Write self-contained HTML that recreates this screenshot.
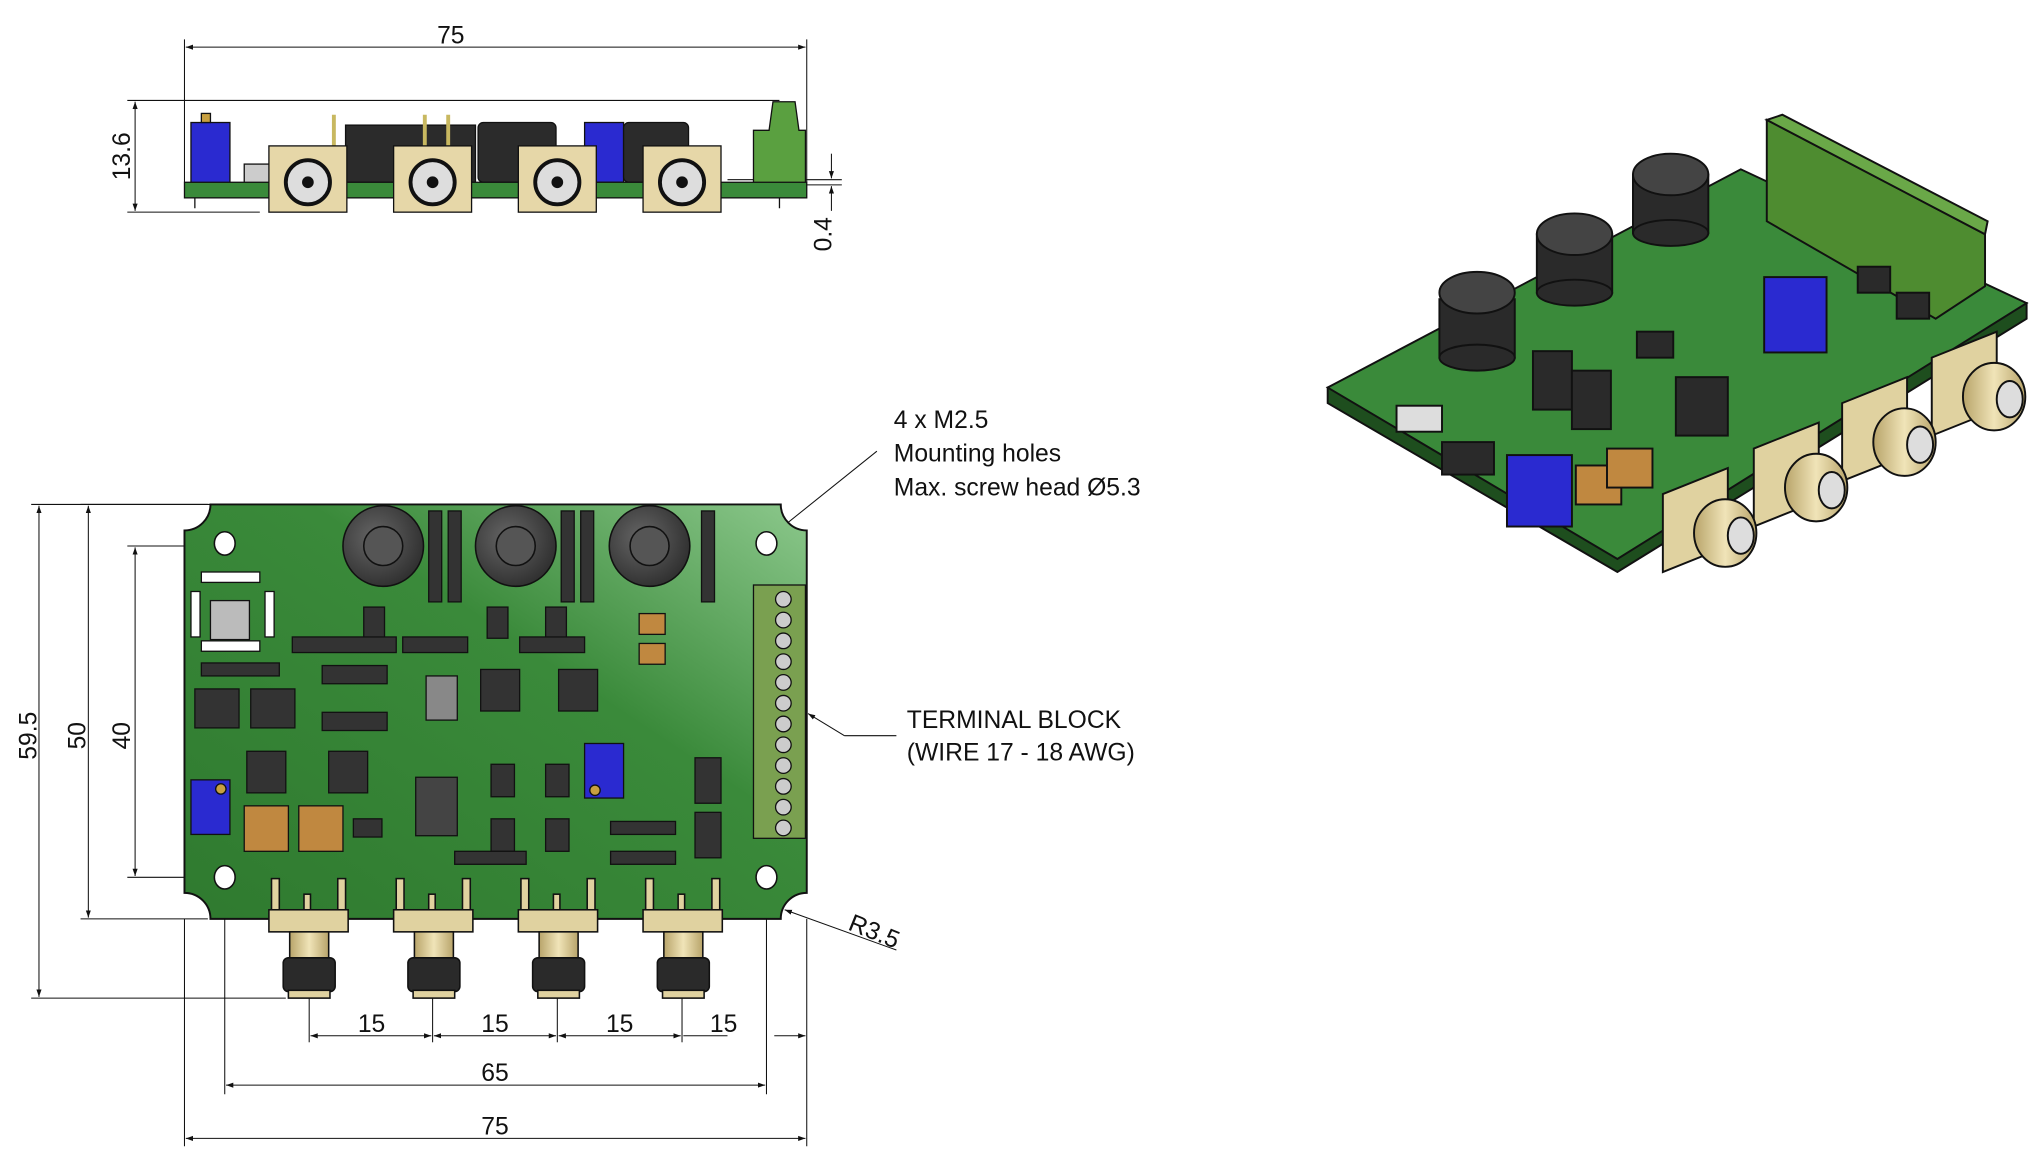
<!DOCTYPE html>
<html><head><meta charset="utf-8"><style>
html,body{margin:0;padding:0;background:#fff;}
svg{display:block;}
text{font-family:"Liberation Sans","DejaVu Sans",sans-serif;fill:#111;}
</style></head><body>
<svg width="2037" height="1157" viewBox="0 0 1568 890" xmlns="http://www.w3.org/2000/svg">
<defs>
<linearGradient id="pcb" x1="0" y1="1" x2="1" y2="0">
<stop offset="0" stop-color="#2f7a2f"/><stop offset="0.6" stop-color="#3a8a3a"/><stop offset="1" stop-color="#8cc88c"/>
</linearGradient>
<radialGradient id="pot" cx="0.4" cy="0.4" r="0.7"><stop offset="0" stop-color="#666"/><stop offset="1" stop-color="#2a2a2a"/></radialGradient>
<linearGradient id="brass" x1="0" x2="1"><stop offset="0" stop-color="#b8a46a"/><stop offset="0.5" stop-color="#f0e4b8"/><stop offset="1" stop-color="#b8a46a"/></linearGradient>
<marker id="ar" viewBox="0 0 10 10" refX="10" refY="5" markerWidth="7" markerHeight="7" orient="auto-start-reverse"><path d="M0,1.5 L10,5 L0,8.5 z" fill="#111"/></marker>
</defs>

<g stroke="#111" stroke-width="0.8" fill="none">
<line x1="142" y1="30" x2="142" y2="140"/><line x1="621" y1="30" x2="621" y2="140"/>
<line x1="143" y1="36" x2="620" y2="36" marker-start="url(#ar)" marker-end="url(#ar)"/>
<line x1="98" y1="77" x2="600" y2="77"/><line x1="98" y1="163" x2="200" y2="163"/>
<line x1="104" y1="78" x2="104" y2="162" marker-start="url(#ar)" marker-end="url(#ar)"/>
<line x1="560" y1="138" x2="648" y2="138"/><line x1="600" y1="142" x2="648" y2="142"/>
<line x1="640" y1="118" x2="640" y2="137" marker-end="url(#ar)"/>
<line x1="640" y1="162" x2="640" y2="143" marker-end="url(#ar)"/>
<line x1="24" y1="388" x2="160" y2="388"/><line x1="24" y1="768" x2="220" y2="768"/>
<line x1="30" y1="389" x2="30" y2="767" marker-start="url(#ar)" marker-end="url(#ar)"/>
<line x1="62" y1="388" x2="165" y2="388"/><line x1="62" y1="707" x2="160" y2="707"/>
<line x1="68" y1="389" x2="68" y2="706" marker-start="url(#ar)" marker-end="url(#ar)"/>
<line x1="98" y1="420" x2="172" y2="420"/><line x1="98" y1="675" x2="172" y2="675"/>
<line x1="104" y1="421" x2="104" y2="674" marker-start="url(#ar)" marker-end="url(#ar)"/>
<line x1="238" y1="768" x2="238" y2="802"/><line x1="333" y1="768" x2="333" y2="802"/>
<line x1="429" y1="768" x2="429" y2="802"/><line x1="525" y1="768" x2="525" y2="802"/>
<line x1="239" y1="797" x2="332" y2="797" marker-start="url(#ar)" marker-end="url(#ar)"/>
<line x1="334" y1="797" x2="428" y2="797" marker-start="url(#ar)" marker-end="url(#ar)"/>
<line x1="430" y1="797" x2="524" y2="797" marker-start="url(#ar)" marker-end="url(#ar)"/>
<line x1="526" y1="797" x2="560" y2="797"/><line x1="596" y1="797" x2="620" y2="797" marker-end="url(#ar)"/>
<line x1="173" y1="675" x2="173" y2="842"/><line x1="590" y1="675" x2="590" y2="842"/>
<line x1="174" y1="835" x2="589" y2="835" marker-start="url(#ar)" marker-end="url(#ar)"/>
<line x1="142" y1="707" x2="142" y2="882"/><line x1="621" y1="707" x2="621" y2="882"/>
<line x1="143" y1="876" x2="620" y2="876" marker-start="url(#ar)" marker-end="url(#ar)"/>
<line x1="675" y1="347" x2="594" y2="412" marker-end="url(#ar)"/>
<line x1="690" y1="566" x2="650" y2="566"/><line x1="650" y1="566" x2="622" y2="549" marker-end="url(#ar)"/>
<line x1="690" y1="731" x2="604" y2="700" marker-end="url(#ar)"/>
</g>

<g font-size="19">
<text x="347" y="33" text-anchor="middle">75</text>
<text transform="translate(100,120) rotate(-90)" text-anchor="middle">13.6</text>
<text transform="translate(640,180) rotate(-90)" text-anchor="middle">0.4</text>
<text transform="translate(28,566) rotate(-90)" text-anchor="middle">59.5</text>
<text transform="translate(66,566) rotate(-90)" text-anchor="middle">50</text>
<text transform="translate(100,566) rotate(-90)" text-anchor="middle">40</text>
<text x="286" y="794" text-anchor="middle">15</text>
<text x="381" y="794" text-anchor="middle">15</text>
<text x="477" y="794" text-anchor="middle">15</text>
<text x="557" y="794" text-anchor="middle">15</text>
<text x="381" y="832" text-anchor="middle">65</text>
<text x="381" y="873" text-anchor="middle">75</text>
<text x="688" y="329">4 x M2.5</text>
<text x="688" y="355">Mounting holes</text>
<text x="688" y="381">Max. screw head Ø5.3</text>
<text x="698" y="560">TERMINAL BLOCK</text>
<text x="698" y="585">(WIRE 17 - 18 AWG)</text>
<text transform="translate(652,715) rotate(22)">R3.5</text>
</g>

<!-- SIDE VIEW -->
<g stroke="#111" stroke-width="1">
<rect x="147" y="94" width="30" height="50" fill="#2a2ad0"/>
<rect x="155" y="87" width="7" height="7" fill="#c8a040"/>
<rect x="266" y="96" width="100" height="44" fill="#2b2b2b"/>
<rect x="368" y="94" width="60" height="46" fill="#2b2b2b" rx="4"/>
<rect x="450" y="94" width="30" height="46" fill="#2a2ad0"/>
<rect x="480" y="94" width="50" height="46" fill="#2b2b2b" rx="4"/>
<rect x="188" y="126" width="20" height="16" fill="#ccc"/>
<line x1="257" y1="88" x2="257" y2="140" stroke="#c8b860" stroke-width="3"/>
<line x1="327" y1="88" x2="327" y2="140" stroke="#c8b860" stroke-width="3"/>
<line x1="345" y1="88" x2="345" y2="140" stroke="#c8b860" stroke-width="3"/>
<path d="M580,142 L580,100 L592,100 L595,78 L612,78 L615,100 L620,100 L620,142 z" fill="#5aa040"/>
<rect x="142" y="140" width="479" height="12" fill="#3a8a3a"/>
<line x1="150" y1="152" x2="150" y2="160"/><line x1="600" y1="152" x2="600" y2="160"/>
<g fill="#e6d7a8">
<rect x="207" y="112" width="60" height="51"/><rect x="303" y="112" width="60" height="51"/>
<rect x="399" y="112" width="60" height="51"/><rect x="495" y="112" width="60" height="51"/>
</g>
<g fill="#ddd" stroke-width="3">
<circle cx="237" cy="140" r="17"/><circle cx="333" cy="140" r="17"/>
<circle cx="429" cy="140" r="17"/><circle cx="525" cy="140" r="17"/>
</g>
<g fill="#111">
<circle cx="237" cy="140" r="4"/><circle cx="333" cy="140" r="4"/>
<circle cx="429" cy="140" r="4"/><circle cx="525" cy="140" r="4"/>
</g>
</g>

<!-- TOP VIEW -->
<g stroke="#111" stroke-width="1.5">
<path d="M162,388 L601,388 A20,20 0 0 0 621,408 L621,687 A20,20 0 0 0 601,707 L162,707 A20,20 0 0 0 142,687 L142,408 A20,20 0 0 0 162,388 z" fill="url(#pcb)"/>
</g>
<g fill="#fff" stroke="#111" stroke-width="1.2">
<ellipse cx="173" cy="418" rx="8" ry="9"/><ellipse cx="590" cy="418" rx="8" ry="9"/>
<ellipse cx="173" cy="675" rx="8" ry="9"/><ellipse cx="590" cy="675" rx="8" ry="9"/>
</g>
<g stroke="#111" stroke-width="1.2">
<circle cx="295" cy="420" r="31" fill="url(#pot)"/><circle cx="397" cy="420" r="31" fill="url(#pot)"/><circle cx="500" cy="420" r="31" fill="url(#pot)"/>
<circle cx="295" cy="420" r="15" fill="#555"/><circle cx="397" cy="420" r="15" fill="#555"/><circle cx="500" cy="420" r="15" fill="#555"/>
</g>
<g fill="#333" stroke="#111">
<rect x="330" y="393" width="10" height="70"/><rect x="345" y="393" width="10" height="70"/>
<rect x="432" y="393" width="10" height="70"/><rect x="447" y="393" width="10" height="70"/>
<rect x="540" y="393" width="10" height="70"/>
<rect x="150" y="530" width="34" height="30"/><rect x="193" y="530" width="34" height="30"/>
<rect x="190" y="578" width="30" height="32"/><rect x="253" y="578" width="30" height="32"/>
<rect x="370" y="515" width="30" height="32"/><rect x="430" y="515" width="30" height="32"/>
<rect x="320" y="598" width="32" height="45" fill="#444"/>
<rect x="535" y="583" width="20" height="35"/><rect x="535" y="625" width="20" height="35"/>
<rect x="280" y="467" width="16" height="24"/><rect x="375" y="467" width="16" height="24"/><rect x="420" y="467" width="16" height="24"/>
<rect x="248" y="512" width="50" height="14"/><rect x="248" y="548" width="50" height="14"/>
<rect x="378" y="588" width="18" height="25"/><rect x="420" y="588" width="18" height="25"/>
<rect x="378" y="630" width="18" height="25"/><rect x="420" y="630" width="18" height="25"/>
<rect x="155" y="510" width="60" height="10"/><rect x="225" y="490" width="80" height="12"/>
<rect x="310" y="490" width="50" height="12"/><rect x="400" y="490" width="50" height="12"/>
<rect x="470" y="632" width="50" height="10"/><rect x="350" y="655" width="55" height="10"/>
<rect x="470" y="655" width="50" height="10"/><rect x="272" y="630" width="22" height="14"/>
</g>
<rect x="328" y="520" width="24" height="34" fill="#888" stroke="#111"/>
<rect x="162" y="462" width="30" height="30" fill="#bbb" stroke="#111"/>
<g fill="#fff" stroke="#111"><rect x="155" y="440" width="45" height="8"/><rect x="155" y="493" width="45" height="8"/><rect x="147" y="455" width="7" height="35"/><rect x="204" y="455" width="7" height="35"/></g>
<g fill="#2a2ad0" stroke="#111"><rect x="147" y="600" width="30" height="42"/><rect x="450" y="572" width="30" height="42"/></g>
<g fill="#c8a040" stroke="#111"><circle cx="170" cy="607" r="4"/><circle cx="458" cy="608" r="4"/></g>
<g fill="#c08840" stroke="#111">
<rect x="188" y="620" width="34" height="35"/><rect x="230" y="620" width="34" height="35"/>
<rect x="492" y="472" width="20" height="16"/><rect x="492" y="495" width="20" height="16"/>
</g>
<rect x="580" y="450" width="40" height="195" fill="#7aa050" stroke="#111"/>
<g fill="#ccc" stroke="#111">
<circle cx="603" cy="461" r="6"/><circle cx="603" cy="477" r="6"/><circle cx="603" cy="493" r="6"/><circle cx="603" cy="509" r="6"/>
<circle cx="603" cy="525" r="6"/><circle cx="603" cy="541" r="6"/><circle cx="603" cy="557" r="6"/><circle cx="603" cy="573" r="6"/>
<circle cx="603" cy="589" r="6"/><circle cx="603" cy="605" r="6"/><circle cx="603" cy="621" r="6"/><circle cx="603" cy="637" r="6"/>
</g>
<!-- SMA connectors -->
<g stroke="#111" stroke-width="1.2">
<g fill="#e0d2a0">
<rect x="209" y="676" width="6" height="24"/><rect x="234" y="688" width="5" height="12"/><rect x="260" y="676" width="6" height="24"/>
<rect x="305" y="676" width="6" height="24"/><rect x="330" y="688" width="5" height="12"/><rect x="356" y="676" width="6" height="24"/>
<rect x="401" y="676" width="6" height="24"/><rect x="426" y="688" width="5" height="12"/><rect x="452" y="676" width="6" height="24"/>
<rect x="497" y="676" width="6" height="24"/><rect x="522" y="688" width="5" height="12"/><rect x="548" y="676" width="6" height="24"/>
<rect x="207" y="700" width="61" height="17"/><rect x="303" y="700" width="61" height="17"/><rect x="399" y="700" width="61" height="17"/><rect x="495" y="700" width="61" height="17"/>
</g>
<g fill="url(#brass)">
<rect x="223" y="717" width="30" height="20"/><rect x="319" y="717" width="30" height="20"/><rect x="415" y="717" width="30" height="20"/><rect x="511" y="717" width="30" height="20"/>
</g>
<g fill="#2a2a2a">
<rect x="218" y="737" width="40" height="26" rx="4"/><rect x="314" y="737" width="40" height="26" rx="4"/><rect x="410" y="737" width="40" height="26" rx="4"/><rect x="506" y="737" width="40" height="26" rx="4"/>
</g>
<g fill="#e0d2a0">
<rect x="222" y="762" width="32" height="6"/><rect x="318" y="762" width="32" height="6"/><rect x="414" y="762" width="32" height="6"/><rect x="510" y="762" width="32" height="6"/>
</g>
</g>

<!-- ISOMETRIC VIEW -->
<g stroke="#111" stroke-width="1.5">
<path d="M1022,298 L1022,310 L1245,440 L1560,245 L1560,233 z" fill="#1e4e1e"/>
<path d="M1022,298 L1340,130 L1560,233 L1245,430 z" fill="#3a8a3a"/>
<path d="M1360,92 L1528,180 L1528,220 L1490,245 L1360,170 z" fill="#4e8c30"/>
<path d="M1360,92 L1372,88 L1530,170 L1528,180 z" fill="#6aa848"/>
<g fill="#2a2a2a">
<rect x="1108" y="230" width="58" height="45" /><ellipse cx="1137" cy="275" rx="29" ry="10"/><ellipse cx="1137" cy="225" rx="29" ry="16" fill="#444"/>
<rect x="1183" y="180" width="58" height="45" /><ellipse cx="1212" cy="225" rx="29" ry="10"/><ellipse cx="1212" cy="180" rx="29" ry="16" fill="#444"/>
<rect x="1257" y="134" width="58" height="45" /><ellipse cx="1286" cy="179" rx="29" ry="10"/><ellipse cx="1286" cy="134" rx="29" ry="16" fill="#444"/>
<rect x="1180" y="270" width="30" height="45"/><rect x="1210" y="285" width="30" height="45"/><rect x="1290" y="290" width="40" height="45"/>
<rect x="1260" y="255" width="28" height="20"/><rect x="1110" y="340" width="40" height="25"/><rect x="1430" y="205" width="25" height="20"/><rect x="1460" y="225" width="25" height="20"/>
</g>
<g fill="#2a2ad0"><rect x="1160" y="350" width="50" height="55"/><rect x="1358" y="213" width="48" height="58"/></g>
<g fill="#c08840"><rect x="1213" y="358" width="35" height="30"/><rect x="1237" y="345" width="35" height="30"/></g>
<rect x="1075" y="312" width="35" height="20" fill="#ddd"/>
<g fill="#e0d2a0">
<path d="M1280,380 L1330,360 L1330,420 L1280,440 z"/><path d="M1350,345 L1400,325 L1400,385 L1350,405 z"/>
<path d="M1418,310 L1468,290 L1468,350 L1418,370 z"/><path d="M1487,275 L1537,255 L1537,315 L1487,335 z"/>
</g>
<g fill="url(#brass)">
<ellipse cx="1328" cy="410" rx="24" ry="26"/><ellipse cx="1398" cy="375" rx="24" ry="26"/>
<ellipse cx="1466" cy="340" rx="24" ry="26"/><ellipse cx="1535" cy="305" rx="24" ry="26"/>
</g>
<g fill="#ddd">
<ellipse cx="1340" cy="412" rx="10" ry="14"/><ellipse cx="1410" cy="377" rx="10" ry="14"/>
<ellipse cx="1478" cy="342" rx="10" ry="14"/><ellipse cx="1547" cy="307" rx="10" ry="14"/>
</g>
</g>
</svg>
</body></html>
